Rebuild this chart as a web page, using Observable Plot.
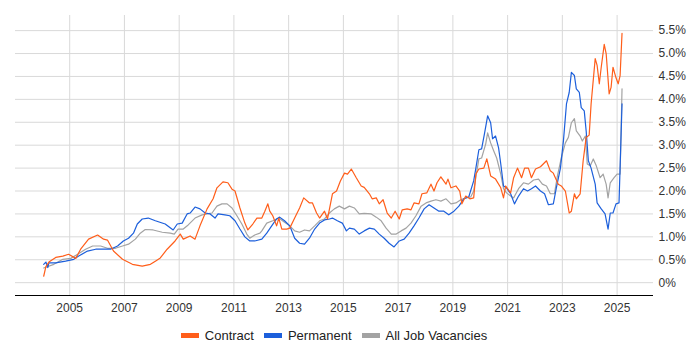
<!DOCTYPE html>
<html><head><meta charset="utf-8">
<script src="https://cdn.jsdelivr.net/npm/d3@7"></script>
<script src="https://cdn.jsdelivr.net/npm/@observablehq/plot@0.6"></script>
<style>
body{margin:0;background:#fff;font-family:"Liberation Sans",Arial,sans-serif;}
#chart svg{display:block;}
#legend{width:700px;box-sizing:border-box;padding-right:32px;display:flex;justify-content:center;align-items:center;height:30px;font-size:13px;color:#222;}
.item{display:flex;align-items:center;margin:0 5px;}
.sw{width:18px;height:5px;margin-right:6px;}
</style></head><body><div id="chart"></div><div id="legend"></div>
<script>
const contract = [[2004.05,0.14],[2004.13,0.35],[2004.24,0.45],[2004.49,0.55],[2004.75,0.58],[2004.96,0.62],[2005.22,0.53],[2005.4,0.73],[2005.69,0.95],[2006.02,1.04],[2006.24,0.95],[2006.38,0.93],[2006.6,0.69],[2006.93,0.51],[2007.29,0.40],[2007.65,0.36],[2007.95,0.40],[2008.13,0.47],[2008.31,0.54],[2008.56,0.73],[2008.85,0.91],[2009.04,1.06],[2009.15,0.95],[2009.4,1.02],[2009.58,0.95],[2009.76,1.24],[2010.02,1.61],[2010.24,1.83],[2010.38,2.07],[2010.6,2.2],[2010.78,2.18],[2010.93,2.04],[2011.04,2.0],[2011.22,1.63],[2011.4,1.3],[2011.51,1.15],[2011.69,1.28],[2011.84,1.41],[2012.02,1.41],[2012.13,1.56],[2012.24,1.72],[2012.31,1.56],[2012.42,1.46],[2012.56,1.24],[2012.64,1.41],[2012.75,1.17],[2012.93,1.17],[2013.04,1.19],[2013.22,1.41],[2013.4,1.63],[2013.55,1.85],[2013.76,1.74],[2013.87,1.74],[2014.02,1.52],[2014.13,1.41],[2014.31,1.56],[2014.42,1.39],[2014.6,1.94],[2014.75,2.0],[2014.89,2.22],[2015.04,2.39],[2015.15,2.37],[2015.29,2.48],[2015.47,2.29],[2015.65,2.11],[2015.76,2.08],[2015.95,1.94],[2016.05,1.83],[2016.2,1.85],[2016.31,1.72],[2016.45,1.81],[2016.6,1.52],[2016.75,1.41],[2016.89,1.56],[2017.04,1.39],[2017.15,1.59],[2017.33,1.61],[2017.47,1.59],[2017.58,1.74],[2017.76,1.72],[2017.87,1.94],[2018.05,1.96],[2018.2,2.15],[2018.31,2.0],[2018.42,2.18],[2018.56,2.31],[2018.75,2.15],[2018.82,2.26],[2018.93,2.07],[2019.11,2.11],[2019.25,2.0],[2019.33,1.72],[2019.47,1.89],[2019.62,1.83],[2019.76,1.85],[2019.84,2.37],[2019.95,2.48],[2020.13,2.5],[2020.24,2.7],[2020.38,2.33],[2020.56,2.26],[2020.75,2.07],[2020.85,1.85],[2020.93,2.11],[2021.11,1.96],[2021.22,2.29],[2021.36,2.5],[2021.51,2.29],[2021.62,2.5],[2021.76,2.5],[2021.87,2.29],[2022.02,2.48],[2022.2,2.53],[2022.42,2.66],[2022.56,2.44],[2022.67,2.39],[2022.85,2.15],[2022.96,2.11],[2023.11,2.0],[2023.25,1.52],[2023.33,1.56],[2023.44,1.94],[2023.51,1.83],[2023.65,1.94],[2023.76,2.66],[2023.87,3.17],[2023.98,3.22],[2024.05,3.9],[2024.2,4.89],[2024.27,4.74],[2024.35,4.34],[2024.42,4.7],[2024.53,5.2],[2024.6,5.0],[2024.71,4.12],[2024.78,4.26],[2024.85,4.7],[2024.96,4.47],[2025.04,4.34],[2025.11,4.52],[2025.18,5.44]];
const permanent = [[2004.05,0.4],[2004.13,0.45],[2004.2,0.33],[2004.24,0.43],[2004.49,0.43],[2004.85,0.47],[2005.15,0.51],[2005.33,0.58],[2005.65,0.69],[2005.95,0.73],[2006.2,0.73],[2006.49,0.73],[2006.75,0.8],[2006.96,0.91],[2007.15,0.97],[2007.33,1.08],[2007.47,1.28],[2007.65,1.39],[2007.87,1.41],[2008.13,1.35],[2008.49,1.28],[2008.78,1.15],[2008.93,1.28],[2009.11,1.3],[2009.29,1.5],[2009.4,1.52],[2009.58,1.65],[2009.76,1.61],[2009.95,1.52],[2010.13,1.5],[2010.31,1.41],[2010.42,1.5],[2010.67,1.48],[2010.85,1.46],[2011.04,1.35],[2011.22,1.17],[2011.4,1.0],[2011.58,0.91],[2011.76,0.91],[2012.02,0.95],[2012.2,1.08],[2012.38,1.24],[2012.56,1.39],[2012.67,1.43],[2012.85,1.35],[2013.04,1.24],[2013.22,0.97],[2013.4,0.86],[2013.58,0.84],[2013.76,0.97],[2013.95,1.17],[2014.13,1.3],[2014.31,1.37],[2014.49,1.39],[2014.6,1.41],[2014.78,1.35],[2014.96,1.3],[2015.11,1.13],[2015.22,1.19],[2015.4,1.17],[2015.58,1.06],[2015.76,1.13],[2015.95,1.19],[2016.13,1.17],[2016.31,1.06],[2016.49,0.97],[2016.67,0.86],[2016.85,0.78],[2017.04,0.91],[2017.22,0.95],[2017.4,1.08],[2017.58,1.24],[2017.76,1.41],[2017.95,1.61],[2018.13,1.7],[2018.31,1.63],[2018.49,1.56],[2018.67,1.56],[2018.85,1.48],[2019.04,1.56],[2019.22,1.67],[2019.4,1.83],[2019.58,1.87],[2019.76,2.22],[2019.84,2.5],[2019.95,2.9],[2020.05,2.92],[2020.16,3.27],[2020.27,3.64],[2020.38,3.49],[2020.45,3.14],[2020.56,3.2],[2020.67,2.94],[2020.75,2.59],[2020.85,2.11],[2020.96,2.07],[2021.11,1.94],[2021.25,1.72],[2021.4,1.89],[2021.58,2.05],[2021.73,2.0],[2021.87,2.05],[2022.02,2.11],[2022.2,2.0],[2022.35,1.94],[2022.49,1.7],[2022.67,1.72],[2022.78,2.07],[2022.93,2.5],[2023.04,3.1],[2023.15,3.9],[2023.25,4.15],[2023.33,4.59],[2023.44,4.52],[2023.51,4.23],[2023.62,4.15],[2023.69,3.82],[2023.8,3.75],[2023.87,3.31],[2023.95,2.66],[2024.05,2.5],[2024.2,2.15],[2024.27,1.74],[2024.42,1.61],[2024.56,1.5],[2024.67,1.17],[2024.75,1.52],[2024.85,1.52],[2024.96,1.72],[2025.07,1.74],[2025.18,3.9]];
const allJobs = [[2004.05,0.32],[2004.42,0.4],[2004.75,0.51],[2005.04,0.53],[2005.29,0.62],[2005.58,0.73],[2005.84,0.8],[2006.13,0.8],[2006.38,0.75],[2006.67,0.75],[2006.93,0.8],[2007.15,0.84],[2007.4,0.95],[2007.58,1.08],[2007.76,1.16],[2008.05,1.15],[2008.38,1.1],[2008.67,1.08],[2008.82,1.06],[2008.96,1.17],[2009.15,1.17],[2009.33,1.26],[2009.58,1.41],[2009.84,1.48],[2010.02,1.5],[2010.2,1.52],[2010.38,1.67],[2010.56,1.72],[2010.75,1.72],[2010.93,1.63],[2011.11,1.46],[2011.29,1.28],[2011.47,1.06],[2011.58,0.97],[2011.76,1.04],[2011.95,1.08],[2012.02,1.13],[2012.2,1.3],[2012.42,1.35],[2012.64,1.41],[2012.85,1.32],[2013.04,1.24],[2013.22,1.13],[2013.4,1.1],[2013.58,1.15],[2013.76,1.13],[2013.95,1.24],[2014.13,1.35],[2014.31,1.39],[2014.49,1.52],[2014.67,1.61],[2014.85,1.67],[2015.04,1.61],[2015.22,1.67],[2015.4,1.63],[2015.58,1.5],[2015.76,1.51],[2016.02,1.5],[2016.2,1.43],[2016.38,1.35],[2016.56,1.19],[2016.75,1.06],[2016.93,1.06],[2017.11,1.13],[2017.29,1.19],[2017.47,1.3],[2017.65,1.46],[2017.84,1.67],[2018.02,1.74],[2018.2,1.78],[2018.38,1.81],[2018.56,1.78],[2018.75,1.83],[2018.93,1.72],[2019.11,1.74],[2019.29,1.81],[2019.47,1.85],[2019.65,1.87],[2019.76,2.0],[2019.84,2.3],[2019.95,2.7],[2020.05,2.72],[2020.2,3.03],[2020.27,3.27],[2020.38,3.05],[2020.49,2.88],[2020.6,2.72],[2020.75,2.37],[2020.85,2.05],[2020.96,1.96],[2021.11,1.89],[2021.22,1.85],[2021.4,2.05],[2021.58,2.18],[2021.76,2.15],[2021.95,2.24],[2022.13,2.26],[2022.27,2.15],[2022.42,2.11],[2022.56,1.94],[2022.71,1.94],[2022.82,2.33],[2022.96,2.72],[2023.11,3.05],[2023.22,3.17],[2023.33,3.49],[2023.44,3.58],[2023.51,3.31],[2023.65,3.2],[2023.73,3.09],[2023.84,3.2],[2023.91,2.59],[2024.02,2.55],[2024.13,2.7],[2024.24,2.55],[2024.38,2.29],[2024.49,2.37],[2024.6,2.15],[2024.67,1.85],[2024.75,2.18],[2024.89,2.29],[2025.0,2.37],[2025.11,2.37],[2025.18,4.23]];
const seriesNames = ["Contract", "Permanent", "All Job Vacancies"];
const seriesColors = ["#ff5e1a", "#1c5fdb", "#a3a3a3"];
const yearTicks = [2005, 2007, 2009, 2011, 2013, 2015, 2017, 2019, 2021, 2023, 2025];
const pctTicks = [0, 0.5, 1, 1.5, 2, 2.5, 3, 3.5, 4, 4.5, 5, 5.5];

const xDomain = [2003.02, 2026.33];
const yDomain = [-0.28, 5.83];
const fmtPct = d => d === 0 ? "0%" : d.toFixed(1) + "%";

const chart = Plot.plot({
  width: 700, height: 320,
  marginTop: 15, marginBottom: 25, marginLeft: 15, marginRight: 47,
  style: {fontFamily: '"Liberation Sans", Arial, sans-serif', fontSize: "12px", background: "#fff"},
  x: {domain: xDomain, label: null},
  y: {domain: yDomain, label: null},
  marks: [
    Plot.gridX(yearTicks, {stroke: "#d9d9d9", strokeOpacity: 1}),
    Plot.gridY(pctTicks, {stroke: "#d9d9d9", strokeOpacity: 1}),
    Plot.axisX(yearTicks, {tickSize: 0, tickPadding: 8, tickFormat: d => String(d), fill: "#333", label: null}),
    Plot.axisY(pctTicks, {anchor: "right", tickSize: 0, tickPadding: 5, tickFormat: fmtPct, fill: "#333", label: null}),
    Plot.ruleY([yDomain[0]], {stroke: "#000", strokeWidth: 1}),
    Plot.line(allJobs, {x: d => d[0], y: d => d[1], stroke: seriesColors[2], strokeWidth: 1.2}),
    Plot.line(permanent, {x: d => d[0], y: d => d[1], stroke: seriesColors[1], strokeWidth: 1.2}),
    Plot.line(contract, {x: d => d[0], y: d => d[1], stroke: seriesColors[0], strokeWidth: 1.2})
  ]
});
document.getElementById("chart").appendChild(chart);

const legend = document.getElementById("legend");
seriesNames.forEach((n, i) => {
  const it = document.createElement("div");
  it.className = "item";
  const sw = document.createElement("span");
  sw.className = "sw";
  sw.style.background = seriesColors[i];
  const t = document.createElement("span");
  t.textContent = n;
  it.appendChild(sw); it.appendChild(t);
  legend.appendChild(it);
});
</script></body></html>
